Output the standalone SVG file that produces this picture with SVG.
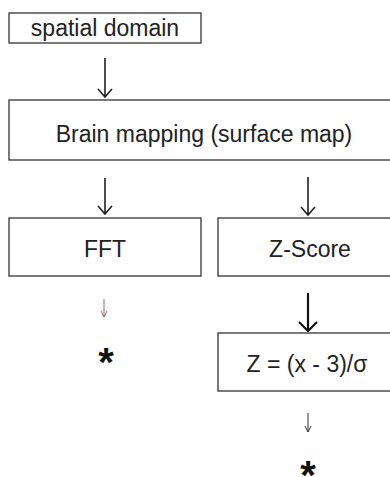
<svg xmlns="http://www.w3.org/2000/svg" width="390" height="477" viewBox="0 0 390 477">
<style>
.box{fill:#fff;stroke:#333;stroke-width:1.3}
.t{font-family:"Liberation Sans",Arial,sans-serif;font-size:23px;fill:#222;text-anchor:middle}
.star{font-family:"Liberation Sans",Arial,sans-serif;font-size:40px;font-weight:bold;fill:#111;text-anchor:middle}
.arr{fill:none;stroke:#222;stroke-width:1.6}
.arr2{fill:none;stroke:#111;stroke-width:2.2}
.sm{fill:none;stroke:#333;stroke-width:1}
.smr{fill:none;stroke:#9a6a6a;stroke-width:1}
</style>
<rect width="390" height="477" fill="#fff"/>
<g id="spatial"><rect class="box" x="9" y="13" width="192" height="30"/><text class="t" x="105" y="36">spatial domain</text></g>
<g id="brain"><rect class="box" x="9" y="100" width="400" height="60"/><text class="t" x="204" y="142">Brain mapping (surface map)</text></g>
<g id="fft"><rect class="box" x="9" y="218" width="192" height="58"/><text class="t" x="105" y="257">FFT</text></g>
<g id="zscore"><rect class="box" x="218" y="218" width="200" height="58"/><text class="t" x="310" y="257">Z-Score</text></g>
<g id="zformula"><rect class="box" x="218" y="333" width="200" height="58"/><text class="t" x="307" y="372">Z = (x - 3)/σ</text></g>
<g id="star1"><text class="star" x="106" y="376">*</text></g>
<g id="star2"><text class="star" x="308" y="489">*</text></g>
<g id="connectors">
<path class="arr" d="M105 58V97M98 89L105 97L112 89"/>
<path class="arr" d="M105 178V214M98 206L105 214L112 206"/>
<path class="arr" d="M308 177V215M301 207L308 215L315 207"/>
<path class="arr2" d="M308 293V331M299 322L308 331L317 322"/>
<path class="smr" d="M104 299V317M101 311L104 317L107 311"/>
<path class="sm" d="M308 413V432M305 426L308 432L311 426"/>
</g>
</svg>
